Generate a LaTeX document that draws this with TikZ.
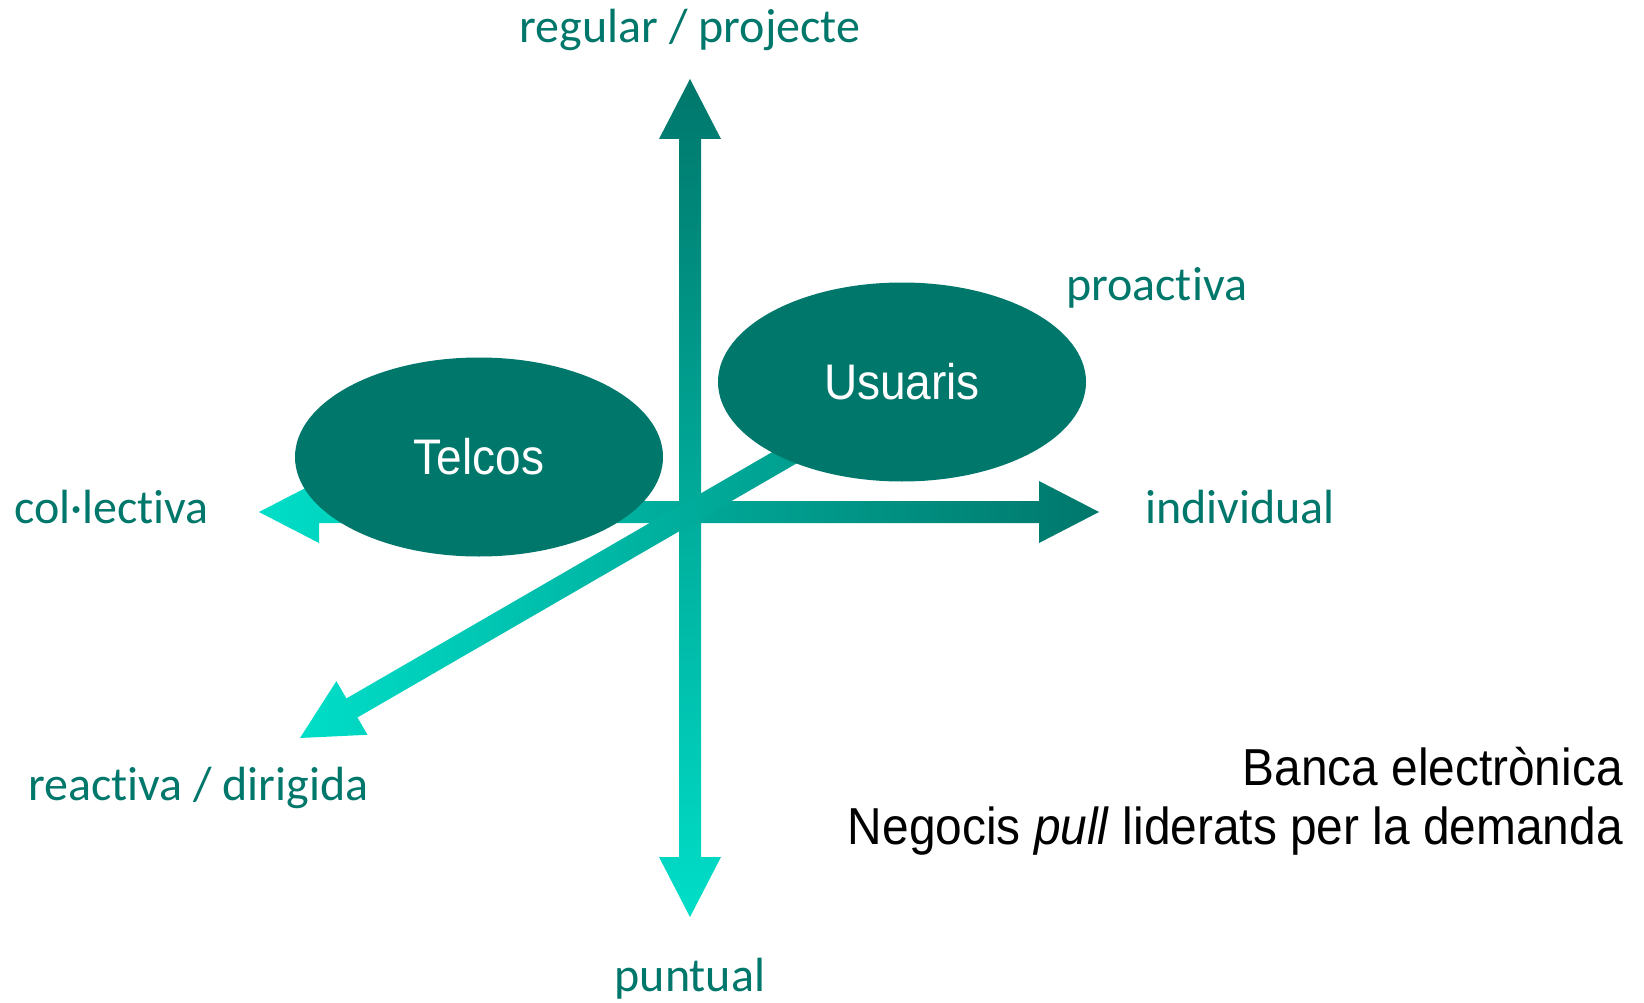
\documentclass[tikz,border=0pt]{standalone}
\usepackage{fontspec}
\setmainfont{Liberation Sans}
\newfontfamily\labelfont[Ligatures=NoCommon]{Carlito}
\newfontfamily\boxfont[FakeStretch=0.92]{Liberation Sans}
\definecolor{TealDark}{RGB}{0, 119, 107}
\definecolor{TealLight}{RGB}{0, 222, 200}
\usetikzlibrary{shapes.geometric, calc}

% double headed axis between two named points
\newcommand{\axisarrow}[3]{%
  \coordinate (ha) at ($(#1)!60pt!(#2)$);
  \coordinate (hb) at ($(#2)!60pt!(#1)$);
  \path[#3] (#1) -- ($(ha)!31pt!90:(#2)$) -- ($(ha)!11pt!90:(#2)$) -- ($(hb)!11pt!90:(#2)$)
    -- ($(hb)!31pt!90:(#2)$) -- (#2) -- ($(hb)!31pt!-90:(#2)$) -- ($(hb)!11pt!-90:(#2)$)
    -- ($(ha)!11pt!-90:(#2)$) -- ($(ha)!31pt!-90:(#2)$) -- cycle;}
% single headed axis, head at the second point
\newcommand{\tiparrow}[3]{%
  \coordinate (hb) at ($(#2)!60pt!(#1)$);
  \path[#3] ($(#1)!11pt!90:(#2)$) -- ($(hb)!11pt!90:(#2)$) -- ($(hb)!31pt!90:(#2)$) -- (#2)
    -- ($(hb)!31pt!-90:(#2)$) -- ($(hb)!11pt!-90:(#2)$) -- ($(#1)!11pt!-90:(#2)$) -- cycle;}

\begin{document}
\begin{tikzpicture}[
        x=1pt, y=-1pt,
        actor/.style={ellipse, fill=TealDark, text=white, minimum width=368pt, minimum height=199pt, inner sep=0pt, font=\boxfont\fontsize{50}{60}\selectfont},
        axislabel/.style={text=TealDark, inner sep=0pt, font=\labelfont\fontsize{48}{58}\selectfont},
        note/.style={anchor=base east, inner sep=0pt, font=\boxfont\fontsize{52}{62}\selectfont}
    ]
        \useasboundingbox (0,0) rectangle (1644,1003);

        \coordinate (centre) at (690,512);
        \coordinate (up) at (690,79);
        \coordinate (down) at (690,917);
        \coordinate (west) at (259,512);
        \coordinate (east) at (1099,512);
        \coordinate (diagstart) at (860,414);
        \coordinate (diagtip) at (300,738);

        \axisarrow{down}{up}{top color=TealDark, bottom color=TealLight}
        \axisarrow{west}{east}{left color=TealLight, right color=TealDark}
        \tiparrow{diagstart}{diagtip}{left color=TealLight, right color=TealDark!70!TealLight}

        \node [actor] (telcos) at (479,457) {Telcos};
        \node [actor] (usuaris) at (902,382) {Usuaris};

        \node [axislabel, anchor=base] (regular) at (690,43) {regular / projecte};
        \node [axislabel, anchor=base] (puntual) at (690,991) {puntual};
        \node [axislabel, anchor=base west] (collectiva) at (14,523) {col·lectiva};
        \node [axislabel, anchor=base west] (individual) at (1145,523) {individual};
        \node [axislabel, anchor=base west] (proactiva) at (1066,300) {proactiva};
        \node [axislabel, anchor=base west] (reactiva) at (28,800) {reactiva / dirigida};

        \node [note] (banca) at (1623,785) {Banca electrònica};
        \node [note] (negocis) at (1623,844) {Negocis \textit{pull} liderats per la demanda};
    \end{tikzpicture}
\end{document}
